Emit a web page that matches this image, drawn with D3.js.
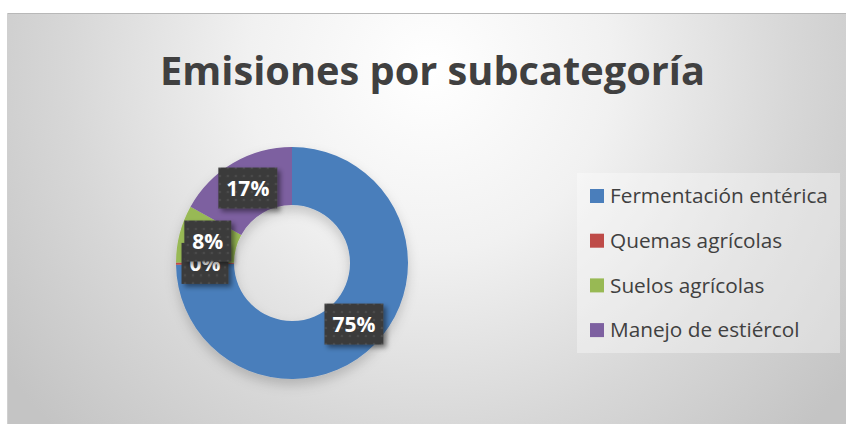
<!DOCTYPE html>
<html>
<head>
<meta charset="utf-8">
<script src="https://cdn.jsdelivr.net/npm/d3@7"></script>
<style>
    body { margin: 0; background: #fff; }
    svg { display: block; }
</style>
</head>
<body>
<div id="chart"></div>
<script>
// datos
const categories = ["Fermentación entérica", "Quemas agrícolas", "Suelos agrícolas", "Manejo de estiércol"];
const values = [75, 0.3, 8, 17];
const colors = ["#4a7ebb", "#be4b48", "#98b954", "#7d60a0"];
const title = "Emisiones por subcategoría";

let width = 846,
    height = 424;

let svg = d3.select("#chart").append("svg")
    .attr("width", width)
    .attr("height", height);

let defs = svg.append("defs");

let grad = defs.append("radialGradient")
    .attr("id", "bg")
    .attr("gradientUnits", "userSpaceOnUse")
    .attr("cx", 430).attr("cy", 70).attr("r", 520);
grad.append("stop").attr("offset", "0").attr("stop-color", "#ffffff");
grad.append("stop").attr("offset", "0.35").attr("stop-color", "#f1f1f1");
grad.append("stop").attr("offset", "0.7").attr("stop-color", "#d7d7d7");
grad.append("stop").attr("offset", "1").attr("stop-color", "#c4c4c4");

let pat = defs.append("pattern")
    .attr("id", "dots")
    .attr("patternUnits", "userSpaceOnUse")
    .attr("width", 8).attr("height", 8);
pat.append("rect").attr("width", 8).attr("height", 8).attr("fill", "#3b3b3b");
pat.append("circle").attr("cx", 4).attr("cy", 4).attr("r", 1.3).attr("fill", "#4c4c4c");

let shadow = defs.append("filter").attr("id", "shadow")
    .attr("x", "-30%").attr("y", "-30%").attr("width", "160%").attr("height", "160%");
shadow.append("feDropShadow")
    .attr("dx", 3).attr("dy", 3).attr("stdDeviation", 2.5)
    .attr("flood-color", "#000").attr("flood-opacity", 0.45);

let pieShadow = defs.append("filter").attr("id", "pieShadow")
    .attr("x", "-30%").attr("y", "-30%").attr("width", "160%").attr("height", "160%");
pieShadow.append("feDropShadow")
    .attr("dx", 0).attr("dy", 6).attr("stdDeviation", 6)
    .attr("flood-color", "#000").attr("flood-opacity", 0.18);

// fondo del gráfico
svg.append("rect")
    .attr("x", 7).attr("y", 13)
    .attr("width", width - 7).attr("height", height - 13)
    .attr("fill", "url(#bg)");
svg.append("line")
    .attr("x1", 7).attr("x2", width).attr("y1", 13.5).attr("y2", 13.5)
    .attr("stroke", "#b8b8b8");
svg.append("line")
    .attr("x1", 7.5).attr("x2", 7.5).attr("y1", 13).attr("y2", height)
    .attr("stroke", "#d0d0d0");

// titulo
let t = svg.append("text")
    .attr("x", 432.5).attr("y", 85)
    .attr("text-anchor", "middle")
    .attr("font-family", "Open Sans, sans-serif")
    .attr("font-weight", "bold")
    .attr("font-size", 40)
    .attr("fill", "#404040")
    .text(title);
let tw = t.node().getComputedTextLength();
t.attr("font-size", 40 * 545 / tw);

// dona
let outer = 116,
    inner = 58;

let g = svg.append("g")
    .attr("transform", "translate(292,263)");

let pie = d3.pie()
    .sort(null)
    .value(function (d) {
        return d;
    });

let arc = d3.arc()
    .innerRadius(inner)
    .outerRadius(outer);

let arcs = pie(values);
let total = d3.sum(values);

g.append("g")
    .attr("filter", "url(#pieShadow)")
    .selectAll("path")
    .data(arcs)
    .enter()
    .append("path")
    .attr("fill", function (d, i) {
        return colors[i];
    })
    .attr("d", arc);

let fmt = d3.format(".0%");

arcs.forEach(function (d) {
    let c = arc.centroid(d);
    let lab = g.append("g")
        .attr("transform", "translate(" + c[0] + "," + c[1] + ")");
    let box = lab.append("rect")
        .attr("fill", "url(#dots)")
        .attr("filter", "url(#shadow)");
    let txt = lab.append("text")
        .attr("text-anchor", "middle")
        .attr("dy", "0.37em")
        .attr("font-family", "Open Sans, sans-serif")
        .attr("font-weight", "bold")
        .attr("font-size", 21)
        .attr("fill", "#ffffff")
        .text(fmt(d.data / total));
    let w = txt.node().getComputedTextLength() + 16;
    box.attr("x", -w / 2).attr("y", -20.5)
        .attr("width", w).attr("height", 41);
});

// leyenda
svg.append("rect")
    .attr("x", 577).attr("y", 173)
    .attr("width", 263).attr("height", 180)
    .attr("fill", "#ffffff")
    .attr("fill-opacity", 0.35);

let legend = svg.append("g");
let items = legend.selectAll("g")
    .data(categories)
    .enter()
    .append("g")
    .attr("transform", function (d, i) {
        return "translate(590," + (196 + i * 44.7) + ")";
    });

items.append("rect")
    .attr("x", 0).attr("y", -7)
    .attr("width", 14).attr("height", 14)
    .attr("fill", function (d, i) {
        return colors[i];
    });

let lt = items.append("text")
    .attr("x", 20)
    .attr("dy", "0.35em")
    .attr("font-family", "Open Sans, sans-serif")
    .attr("font-size", 19)
    .attr("fill", "#404040")
    .text(function (d) {
        return d;
    });
let lw = lt.node().getComputedTextLength();
lt.attr("font-size", 19 * 218 / lw);
</script>
</body>
</html>
